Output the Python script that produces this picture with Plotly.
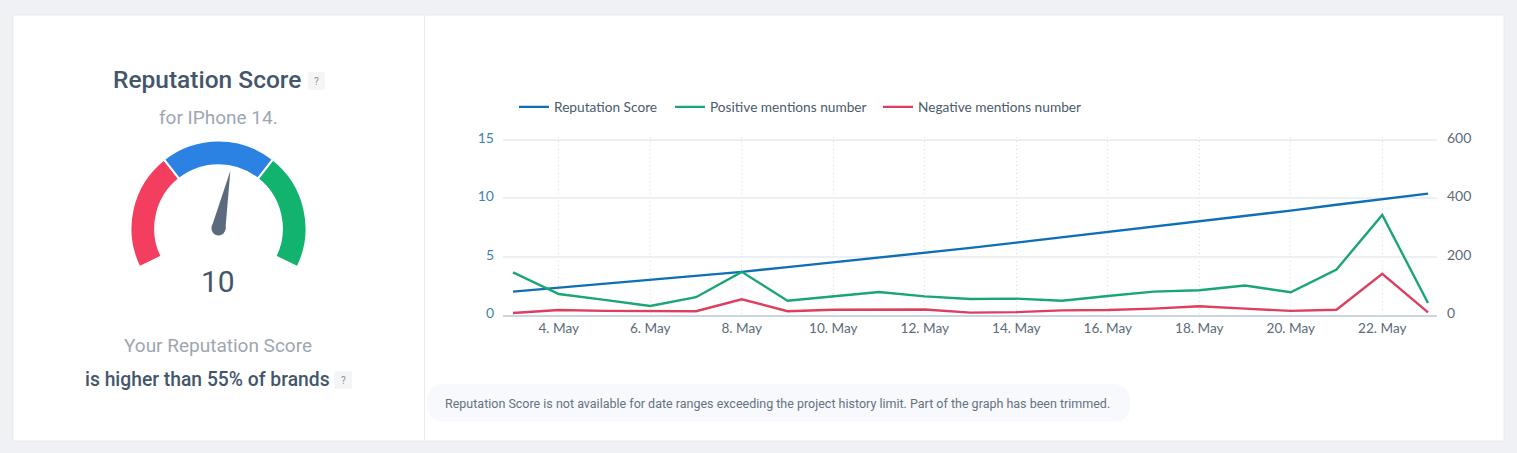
import math
import pandas as pd
import plotly.graph_objects as go

W, H = 1517, 453

# Valori
days = pd.date_range("2023-05-03", "2023-05-23", freq="D")
tick_days = days[1::2]
reputation = [2.0, 2.33, 2.65, 2.98, 3.32, 3.7, 4.1, 4.5, 4.9, 5.3, 5.75, 6.2, 6.65, 7.1, 7.55, 8.0, 8.48, 8.95, 9.45, 9.93, 10.4]
positive = [146, 72, 52, 31, 61, 148, 49, 64, 79, 64, 55, 56, 49, 65, 80, 85, 101, 78, 156, 343, 41]
negative = [7, 17, 14, 14, 13, 54, 13, 18, 18, 19, 8, 10, 16, 17, 22, 30, 22, 14, 18, 141, 9]
left_ticks = [0, 5, 10, 15]
right_ticks = [0, 200, 400, 600]

score = 10
gauge_min, gauge_max = -100, 100
gauge_bands = [-100, -33, 33, 100]
gauge_colors = ["#f43e60", "#2c82e2", "#12b36e"]
gauge_span = 232  # gradi

BLUE, GREEN, RED = "#0f6fb5", "#1aa672", "#dc3f5f"
DARK, GREY = "#43566b", "#9ea6b2"


def px(x):
    return x / W


def py(y):
    return 1 - y / H


def round_rect(x0, y0, x1, y1, r):
    return (f"M{px(x0 + r)},{py(y0)} L{px(x1 - r)},{py(y0)} Q{px(x1)},{py(y0)} {px(x1)},{py(y0 + r)} "
            f"L{px(x1)},{py(y1 - r)} Q{px(x1)},{py(y1)} {px(x1 - r)},{py(y1)} "
            f"L{px(x0 + r)},{py(y1)} Q{px(x0)},{py(y1)} {px(x0)},{py(y1 - r)} "
            f"L{px(x0)},{py(y0 + r)} Q{px(x0)},{py(y0)} {px(x0 + r)},{py(y0)} Z")


fig = go.Figure()

# Linee del grafico
fig.add_trace(go.Scatter(x=days, y=reputation, mode="lines", name="Reputation Score",
                         line=dict(color=BLUE, width=2.4), yaxis="y", legend="legend"))
fig.add_trace(go.Scatter(x=days, y=positive, mode="lines", name="Positive mentions number",
                         line=dict(color=GREEN, width=2.4), yaxis="y2", legend="legend2"))
fig.add_trace(go.Scatter(x=days, y=negative, mode="lines", name="Negative mentions number",
                         line=dict(color=RED, width=2.4), yaxis="y2", legend="legend3"))

# Gauge: una torta con l'ultima fetta trasparente
cx, cy, radius = 218.5, 228.5, 88
scale = gauge_span / (gauge_max - gauge_min)
slices = [(b - a) * scale for a, b in zip(gauge_bands, gauge_bands[1:])]
slices.append(360 - gauge_span)
fig.add_trace(go.Pie(
    values=slices, sort=False, direction="clockwise", rotation=-gauge_span / 2, hole=0.72,
    textinfo="none", hoverinfo="skip", showlegend=False,
    marker=dict(colors=gauge_colors + ["rgba(0,0,0,0)"],
                line=dict(color=["#ffffff"] * 3 + ["rgba(0,0,0,0)"], width=[2, 2, 2, 0])),
    domain=dict(x=[px(cx - radius), px(cx + radius)], y=[py(cy + radius), py(cy - radius)]),
))

# Lancetta calcolata dal punteggio
angle = math.radians((score - (gauge_min + gauge_max) / 2) * scale)
needle_len, needle_base = 59, 7
tip = (cx + needle_len * math.sin(angle), cy - needle_len * math.cos(angle))
b1 = (cx + needle_base * math.cos(angle), cy + needle_base * math.sin(angle))
b2 = (cx - needle_base * math.cos(angle), cy - needle_base * math.sin(angle))
needle_path = (f"M{px(tip[0])},{py(tip[1])} L{px(b1[0])},{py(b1[1])} L{px(b2[0])},{py(b2[1])} Z")

shapes = [
    # card bianca e divisore
    dict(type="rect", xref="paper", yref="paper", x0=px(13), x1=px(1504), y0=py(441), y1=py(15),
         fillcolor="#ffffff", line=dict(color="#e9eaee", width=1), layer="below"),
    dict(type="line", xref="paper", yref="paper", x0=px(424.5), x1=px(424.5), y0=py(440), y1=py(15),
         line=dict(color="#e8ebef", width=1), layer="below"),
    # nota in basso
    dict(type="path", xref="paper", yref="paper", path=round_rect(427, 384, 1130, 422, 18),
         fillcolor="#f7f9fd", line=dict(width=0), layer="below"),
    # badge "?"
    dict(type="path", xref="paper", yref="paper", path=round_rect(308, 72, 325, 90, 2),
         fillcolor="#f4f5f6", line=dict(width=0), layer="below"),
    dict(type="path", xref="paper", yref="paper", path=round_rect(334, 371, 352, 389, 2),
         fillcolor="#f4f5f6", line=dict(width=0), layer="below"),
    # lancetta
    dict(type="path", xref="paper", yref="paper", path=needle_path,
         fillcolor="#5b6b7d", line=dict(width=0)),
    dict(type="circle", xref="paper", yref="paper", x0=px(cx - needle_base), x1=px(cx + needle_base),
         y0=py(cy + needle_base), y1=py(cy - needle_base), fillcolor="#5b6b7d", line=dict(width=0)),
]


def label(x, y, text, size, color, weight=400, family="Roboto"):
    return dict(xref="paper", yref="paper", x=px(x), y=py(y), text=text, showarrow=False,
                xanchor="center", yanchor="middle",
                font=dict(family=family, size=size, color=color, weight=weight))


annotations = [
    label(206.5, 79, "Reputation Score", 24.5, DARK, 500),
    label(316.5, 81, "?", 10, "#8a8f96"),
    label(218, 117, "for IPhone 14.", 19, GREY),
    label(218, 281.5, str(score), 30, DARK),
    label(218, 345, "Your Reputation Score", 19, GREY),
    label(207, 379, "is higher than 55% of brands", 19.3, DARK, 500),
    label(343, 380, "?", 10, "#8a8f96"),
    label(777.5, 403, "Reputation Score is not available for date ranges exceeding the project history limit. "
                      "Part of the graph has been trimmed.", 12.5, "#66727f"),
]

# Piazzamento dell'asse x: 4 May a 559 px, 22 May a 1383 px
px_per_day = 45.75
x0 = days[0] - pd.Timedelta(days=10 / px_per_day)
x1 = days[-1] + pd.Timedelta(days=9 / px_per_day)


def legend_at(x):
    return dict(x=px(x), y=py(107), xanchor="left", yanchor="middle",
                orientation="h", bgcolor="rgba(0,0,0,0)",
                font=dict(family="Lato", size=13.7, color="#4a5b6c"))


fig.update_layout(
    width=W, height=H,
    margin=dict(l=0, r=0, t=0, b=0, autoexpand=False),
    paper_bgcolor="#f0f1f5", plot_bgcolor="rgba(0,0,0,0)",
    shapes=shapes, annotations=annotations,
    legend=legend_at(514), legend2=legend_at(670), legend3=legend_at(878),
    xaxis=dict(domain=[px(503), px(1437)], range=[x0, x1], tickvals=tick_days, tickformat="%-d. %b",
               showgrid=True, gridcolor="#d9dde3", griddash="1px,3px", gridwidth=1,
               showline=True, linecolor="#ccd6e2", linewidth=1.5, ticks="", zeroline=False,
               tickfont=dict(family="Lato", size=13.6, color="#5c6b7a")),
    # range poco oltre il 15 per non perdere la griglia in cima
    yaxis=dict(domain=[py(315), py(137)], range=[0, 15.257], tickvals=left_ticks, side="left",
               showgrid=True, gridcolor="#eceff3", gridwidth=1.5, zeroline=False, ticks="",
               ticklabelstandoff=8, ticklabelshift=-2, tickfont=dict(family="Lato", size=14, color="#3f82ad")),
    yaxis2=dict(domain=[py(315), py(137)], range=[0, 610.3], tickvals=right_ticks, side="right",
                overlaying="y", anchor="x", showgrid=False, zeroline=False, ticks="",
                ticklabelstandoff=9, ticklabelshift=-2, tickfont=dict(family="Lato", size=14, color="#5c6b7a")),
)

fig.write_html("out.html", config=dict(displayModeBar=False),
               post_script="document.body.style.margin='0';")
